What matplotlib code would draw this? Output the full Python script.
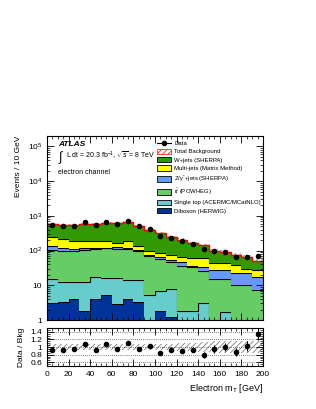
import numpy as np
import matplotlib.pyplot as plt
from matplotlib.ticker import FixedLocator, MultipleLocator, LogLocator, NullFormatter, FuncFormatter
from matplotlib.patches import Patch
from matplotlib.lines import Line2D

plt.rcParams['font.family'] = ['Liberation Sans', 'DejaVu Sans']
plt.rcParams['hatch.linewidth'] = 0.5
plt.rcParams['mathtext.fontset'] = 'custom'
plt.rcParams['mathtext.rm'] = 'Liberation Sans'
plt.rcParams['mathtext.it'] = 'Liberation Sans:italic'

# 10 GeV bins in electron mT
edges = np.arange(0, 210, 10)
centers = edges[:-1] + 5

# stacked backgrounds, bottom to top
diboson = [3.1, 3.2, 3.9, 1.8, 4.1, 5.2, 2.8, 3.9, 3.4, 0.5, 1.8, 1.2, 1.0, 0.5, 0.45, 0.4, 0.35, 0.3, 0.3, 0.25]
single_top = [11.6, 8.9, 8.2, 10.3, 12.8, 10.6, 13.0, 10.2, 10.7, 4.9, 5.1, 6.5, 0.85, 1.35, 2.65, 0.4, 1.3, 0.4, 0.4, 0.35]
ttbar = [90, 86, 86, 93, 93, 101, 94, 96, 84, 65, 51, 40, 33, 32, 22, 14, 13.4, 9.3, 9.3, 6.9]
zjets = [32, 19, 14, 12, 12, 5, 21, 12, 7, 3, 6, 6, 12, 2, 8, 13, 13, 12, 12, 10]
multijet = [102, 97, 79, 74, 61, 61, 33, 61, 32, 27, 24, 21, 19, 26, 27, 15, 15, 16, 7, 10]
wjets = [346, 334, 342, 406, 402, 427, 446, 469, 385, 300, 232, 170, 139, 102, 80, 57, 47, 37, 35, 23.5]

data = [544, 510, 506, 648, 538, 656, 570, 724, 496, 412, 266, 227, 185, 153, 111, 95, 90, 65, 66, 69]
bkg_unc = [0.07, 0.07, 0.07, 0.07, 0.07, 0.07, 0.07, 0.07, 0.08, 0.08, 0.09, 0.09, 0.10, 0.11, 0.12,
           0.15, 0.15, 0.16, 0.16, 0.17]

samples = [
    ('Diboson (HERWIG)', diboson, '#003399'),
    ('Single top (ACERMC/MCatNLO)', single_top, '#66cccc'),
    (r'$t\bar{t}$ (POWHEG)', ttbar, '#66cc66'),
    (r'Z/$\gamma^{*}$+jets (SHERPA)', zjets, '#6699ff'),
    ('Multi-jets (Matrix Method)', multijet, '#ffff00'),
    ('W+jets (SHERPA)', wjets, '#339900'),
]

fig = plt.figure(figsize=(3.16, 4.09), dpi=100)
ax = fig.add_axes([0.1487, 0.2176, 0.6835, 0.4499])
axr = fig.add_axes([0.1487, 0.1051, 0.6835, 0.0929])

# stack
base = np.full(len(centers), 1e-3)
handles = []
for label, vals, col in samples:
    top = base + np.array(vals)
    ax.stairs(top, edges, baseline=base, fill=True, color=col, lw=0)
    ax.stairs(top, edges, baseline=None, color='black', lw=0.8)
    handles.append((label, col))
    base = top
total = base
unc = total * np.array(bkg_unc)

ax.stairs(total + unc, edges, baseline=total - unc, fill=False, hatch='//////',
          edgecolor='#666666', lw=0)
ax.stairs(total, edges, baseline=None, color='red', lw=1.0)

data = np.array(data, dtype=float)
ax.errorbar(centers, data, yerr=np.sqrt(data), fmt='o', color='black', ms=3, lw=0.8, capsize=0)

ax.set_yscale('log')
ax.set_xlim(0, 200)
ax.set_ylim(1, 2e5)
ax.yaxis.set_major_locator(FixedLocator([1, 10, 100, 1e3, 1e4, 1e5]))
ax.yaxis.set_major_formatter(FuncFormatter(
    lambda v, p: {1: '1', 10: '10'}.get(int(round(v)), r'$10^{%d}$' % round(np.log10(v)))))
ax.yaxis.set_minor_locator(LogLocator(base=10, subs=np.arange(2, 10), numticks=20))
ax.yaxis.set_minor_formatter(NullFormatter())
for a in (ax, axr):
    a.xaxis.set_major_locator(MultipleLocator(20))
    a.xaxis.set_minor_locator(MultipleLocator(5))
    a.tick_params(which='both', direction='in', top=True, right=True, labelsize=6)
    a.tick_params(which='major', length=5, width=0.6)
    a.tick_params(which='minor', length=2.5, width=0.5)
    for s in a.spines.values():
        s.set_linewidth(0.8)
ax.tick_params(axis='x', labelbottom=False)
ax.set_ylabel('Events / 10 GeV', fontsize=6, loc='top', labelpad=4)

ax.text(0.05, 0.955, 'ATLAS', transform=ax.transAxes, fontsize=6, fontweight='bold',
        style='italic', va='center')
ax.text(0.05, 0.885, r'$\int$', transform=ax.transAxes, fontsize=9, va='center')
ax.text(0.09, 0.89, r'L dt = 20.3 fb$^{-1}$, $\sqrt{s}$ = 8 TeV', transform=ax.transAxes,
        fontsize=5, va='center')
ax.text(0.05, 0.8, 'electron channel', transform=ax.transAxes, fontsize=5, va='center')

leg_handles = [Line2D([], [], color='black', marker='o', ms=3, lw=0.8),
               Patch(facecolor='white', edgecolor='red', hatch='//////', lw=0.5)]
leg_labels = ['Data', 'Total Background']
for label, col in reversed(handles):
    leg_handles.append(Patch(facecolor=col, edgecolor='black', lw=0.6))
    leg_labels.append(label)
ax.legend(leg_handles, leg_labels, loc='upper left', bbox_to_anchor=(0.5, 0.99), frameon=False,
          fontsize=4.3, handlelength=2.2, handleheight=1.0, labelspacing=0.45, handletextpad=0.6,
          borderaxespad=0)

# ratio panel
ratio = data / total
runc = np.array(bkg_unc)
axr.stairs(1 + runc, edges, baseline=1 - runc, fill=False, hatch='//////',
           edgecolor='#666666', lw=0)
for yv in [0.6, 0.8, 1.0, 1.2, 1.4]:
    axr.axhline(yv, color='black', ls=(0, (1, 2)), lw=0.5)
axr.errorbar(centers, ratio, yerr=np.sqrt(data) / total, fmt='o', color='black', ms=3,
             lw=0.8, capsize=0)
axr.set_xlim(0, 200)
axr.set_ylim(0.5, 1.5)
axr.yaxis.set_major_locator(FixedLocator([0.6, 0.8, 1.0, 1.2, 1.4]))
axr.yaxis.set_major_formatter(FuncFormatter(lambda v, p: '%g' % round(v, 1)))
axr.yaxis.set_minor_locator(MultipleLocator(0.05))
axr.set_ylabel('Data / Bkg', fontsize=6, loc='top', labelpad=4)
axr.set_xlabel(r'Electron m$_{\mathrm{T}}$ [GeV]', fontsize=6.5, loc='right', labelpad=3)

fig.savefig('out.png', dpi=100)
